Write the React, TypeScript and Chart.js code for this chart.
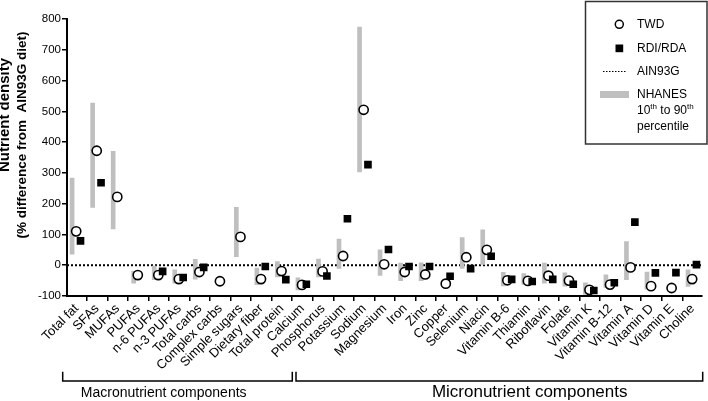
import React, { useEffect, useRef } from 'react';
import { Chart, registerables } from 'chart.js';

Chart.register(...registerables);

const categories = [
  'Total fat', 'SFAs', 'MUFAs', 'PUFAs', 'n-6 PUFAs', 'n-3 PUFAs', 'Total carbs', 'Complex carbs',
  'Simple sugars', 'Dietary fiber', 'Total protein', 'Calcium', 'Phosphorus', 'Potassium', 'Sodium',
  'Magnesium', 'Iron', 'Zinc', 'Copper', 'Selenium', 'Niacin', 'Vitamin B-6', 'Thiamin', 'Riboflavin',
  'Folate', 'Vitamin K', 'Vitamin B-12', 'Vitamin A', 'Vitamin D', 'Vitamin E', 'Choline',
];

const twd = [110, 372, 222, -32, -32, -45, -22, -52, 92, -45, -19, -64, -20, 30, 505, 3, -22, -30, -60, 26, 50, -49, -51, -34, -50, -80, -63, -7, -68, -74, -45];
const rdi: (number | null)[] = [79, 268, null, null, -20, -40, -7, null, null, -4, -47, -62, -35, 151, 327, 51, -4, -4, -36, -11, 29, -46, -53, -46, -62, -82, -57, 140, -25, -24, 2];
const nhanesLow: (number | null)[] = [36, 188, 118, -58, -47, -58, -45, null, 28, -63, -38, -80, -38, -10, 303, -33, -50, -50, null, -10, 3, -67, -62, -58, -68, -95, -72, -47, -78, null, -69];
const nhanesHigh: (number | null)[] = [283, 527, 370, -20, 0, -15, 19, null, 188, -9, 12, -41, 20, 85, 774, 50, 7, 8, null, 90, 115, -23, -27, 7, -25, -57, -31, 77, -22, null, -15];

const yMin = -100;
const yMax = 800;
const yStep = 100;

const FONT = "'Liberation Sans', Arial, Helvetica, sans-serif";
const X_MIN = -0.468;
const X_MAX = 30.45;
const BAR_DX = -0.22;
const TWD_DX = -0.02;
const RDI_DX = 0.19;
const GRAY = '#bfbfbf';

const overlay = {
  id: 'overlay',
  afterDraw(chart: any) {
    const ctx: CanvasRenderingContext2D = chart.ctx;
    ctx.save();
    ctx.fillStyle = '#000';
    ctx.strokeStyle = '#000';

    // Y title
    ctx.textAlign = 'center';
    ctx.textBaseline = 'alphabetic';
    ctx.save();
    ctx.font = `bold 15px ${FONT}`;
    ctx.translate(9, 115);
    ctx.rotate(-Math.PI / 2);
    ctx.fillText('Nutrient density', 0, 0);
    ctx.restore();
    ctx.save();
    ctx.font = `bold 13.5px ${FONT}`;
    ctx.translate(25.5, 135);
    ctx.rotate(-Math.PI / 2);
    ctx.fillText('(% difference from  AIN93G diet)', 0, 0);
    ctx.restore();

    // Legend box
    ctx.lineWidth = 1.5;
    ctx.strokeStyle = '#333';
    ctx.strokeRect(585.5, 1.5, 121.5, 142.5);
    ctx.strokeStyle = '#000';
    ctx.beginPath();
    ctx.arc(619.3, 24.3, 4, 0, Math.PI * 2);
    ctx.fillStyle = '#fff';
    ctx.fill();
    ctx.lineWidth = 1.5;
    ctx.stroke();
    ctx.fillStyle = '#000';
    ctx.fillRect(615.5, 44.5, 7.7, 7.7);
    ctx.save();
    ctx.lineWidth = 1;
    ctx.setLineDash([1.5, 1.5]);
    ctx.beginPath();
    ctx.moveTo(603, 71.5);
    ctx.lineTo(627, 71.5);
    ctx.stroke();
    ctx.restore();
    ctx.fillStyle = GRAY;
    ctx.fillRect(600, 91, 29, 7);
    ctx.fillStyle = '#000';

    ctx.font = `12px ${FONT}`;
    ctx.textAlign = 'left';
    ctx.textBaseline = 'middle';
    const tx = 637;
    ctx.fillText('TWD', tx, 24.5);
    ctx.fillText('RDI/RDA', tx, 48.5);
    ctx.fillText('AIN93G', tx, 71.5);
    ctx.fillText('NHANES', tx, 94.5);
    let x = tx;
    const drawPart = (s: string, sup: boolean, y: number) => {
      ctx.font = sup ? `8px ${FONT}` : `12px ${FONT}`;
      ctx.fillText(s, x, sup ? y - 4 : y);
      x += ctx.measureText(s).width;
    };
    drawPart('10', false, 111);
    drawPart('th', true, 111);
    drawPart(' to 90', false, 111);
    drawPart('th', true, 111);
    ctx.font = `12px ${FONT}`;
    ctx.fillText('percentile', tx, 126.5);

    // Brackets
    ctx.lineWidth = 1.5;
    ctx.beginPath();
    ctx.moveTo(62.7, 371.7);
    ctx.lineTo(62.7, 381);
    ctx.lineTo(292.3, 381);
    ctx.lineTo(292.3, 371.7);
    ctx.moveTo(296, 371.7);
    ctx.lineTo(296, 381);
    ctx.lineTo(702.7, 381);
    ctx.lineTo(702.7, 371.7);
    ctx.stroke();

    ctx.textAlign = 'center';
    ctx.textBaseline = 'middle';
    ctx.font = `14px ${FONT}`;
    ctx.fillText('Macronutrient components', 163.7, 392.7);
    ctx.font = `17px ${FONT}`;
    ctx.fillText('Micronutrient components', 529.7, 392.2);
    ctx.restore();
  },
};

export default function App() {
  const ref = useRef<HTMLCanvasElement>(null);
  useEffect(() => {
    const canvas = ref.current;
    if (!canvas) return;
    const rdiData = rdi
      .map((v, i) => (v == null ? null : { x: i + RDI_DX, y: v }))
      .filter((d) => d !== null);
    const twdData = twd.map((v, i) => ({ x: i + TWD_DX, y: v }));
    const barData = nhanesLow
      .map((lo, i) => (lo == null || nhanesHigh[i] == null ? null : { x: i + BAR_DX, y: [lo, nhanesHigh[i]] }))
      .filter((d) => d !== null);

    const chart = new Chart(canvas, {
      type: 'scatter',
      data: {
        datasets: [
          {
            type: 'scatter',
            label: 'RDI/RDA',
            data: rdiData as any,
            pointStyle: 'rect',
            pointRadius: 5.4,
            backgroundColor: '#000',
            borderColor: '#000',
            borderWidth: 0,
            order: 0,
          },
          {
            type: 'scatter',
            label: 'TWD',
            data: twdData,
            pointStyle: 'circle',
            pointRadius: 4.6,
            backgroundColor: '#fff',
            borderColor: '#000',
            borderWidth: 1.6,
            order: 1,
          },
          {
            type: 'bar',
            label: 'NHANES 10th to 90th percentile',
            data: barData as any,
            backgroundColor: GRAY,
            borderWidth: 0,
            barThickness: 4,
            order: 2,
          } as any,
          {
            type: 'line',
            label: 'AIN93G',
            data: [{ x: X_MIN, y: 0 }, { x: X_MAX, y: 0 }],
            borderColor: '#000',
            borderWidth: 2,
            borderDash: [2, 2],
            pointRadius: 0,
            order: 3,
          },
        ],
      },
      options: {
        responsive: false,
        animation: false,
        devicePixelRatio: 1,
        layout: { padding: { top: 19, right: 0, left: 0, bottom: 0 } },
        plugins: { legend: { display: false }, tooltip: { enabled: false } },
        scales: {
          x: {
            type: 'linear',
            min: X_MIN,
            max: X_MAX,
            offset: false,
            afterFit: (s: any) => { s.height = 105; },
            afterBuildTicks: (s: any) => { s.ticks = categories.map((_, i) => ({ value: i })); },
            ticks: {
              autoSkip: false,
              maxRotation: 45,
              minRotation: 45,
              color: '#000',
              font: { family: FONT, size: 13 },
              padding: 0,
              callback: (v: any) => categories[v as number] ?? '',
            },
            grid: { display: true, drawOnChartArea: false, drawTicks: true, tickLength: 5, color: '#000', lineWidth: 1.5 },
            border: { display: true, color: '#000', width: 2 },
          },
          y: {
            type: 'linear',
            min: yMin,
            max: yMax,
            afterFit: (s: any) => { s.width = 67; },
            ticks: { stepSize: yStep, color: '#000', font: { family: FONT, size: 11.5 }, padding: 1 },
            grid: { display: true, drawOnChartArea: false, drawTicks: true, tickLength: 5, color: '#000', lineWidth: 1.5 },
            border: { display: true, color: '#000', width: 2 },
          },
        },
      } as any,
      plugins: [overlay],
    });
    return () => chart.destroy();
  }, []);
  return (
    <div style={{ position: 'absolute', left: 0, top: 0, width: 708, height: 401 }}>
      <canvas ref={ref} width={708} height={401} style={{ display: 'block', width: 708, height: 401 }} />
    </div>
  );
}
